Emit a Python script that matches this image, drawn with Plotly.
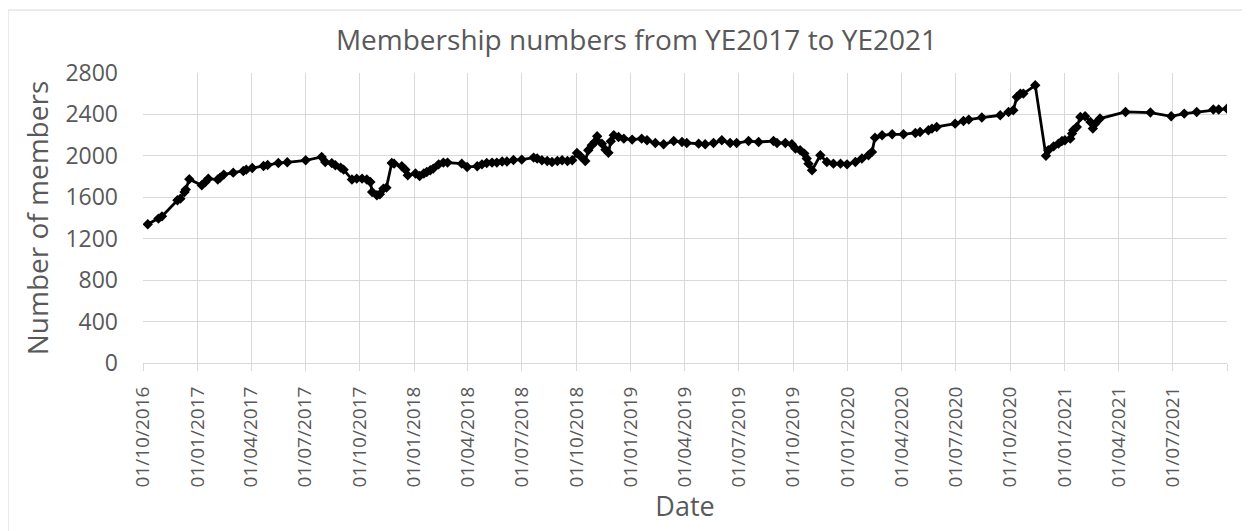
import plotly.graph_objects as go

dates = [
    "2016-10-09", "2016-10-27", "2016-11-02", "2016-11-28", "2016-12-03", "2016-12-10",
    "2016-12-12", "2016-12-18", "2017-01-08", "2017-01-14", "2017-01-19", "2017-02-04",
    "2017-02-08", "2017-02-14", "2017-03-02", "2017-03-19", "2017-03-24", "2017-04-03",
    "2017-04-22", "2017-04-29", "2017-05-17", "2017-06-01", "2017-07-02", "2017-07-29",
    "2017-08-04", "2017-08-15", "2017-08-21", "2017-08-30", "2017-09-04", "2017-09-18",
    "2017-09-26", "2017-10-05", "2017-10-13", "2017-10-19", "2017-10-22", "2017-10-30",
    "2017-11-04", "2017-11-10", "2017-11-15", "2017-11-24", "2017-11-28", "2017-12-11",
    "2017-12-17", "2017-12-21", "2018-01-03", "2018-01-10", "2018-01-17", "2018-01-22",
    "2018-01-28", "2018-02-02", "2018-02-11", "2018-02-19", "2018-02-26", "2018-03-22",
    "2018-03-31", "2018-04-17", "2018-04-25", "2018-05-03", "2018-05-12", "2018-05-20",
    "2018-05-29", "2018-06-06", "2018-06-17", "2018-07-01", "2018-07-21", "2018-07-27",
    "2018-08-04", "2018-08-13", "2018-08-21", "2018-08-30", "2018-09-07", "2018-09-16",
    "2018-09-24", "2018-10-02", "2018-10-08", "2018-10-16", "2018-10-21", "2018-10-27",
    "2018-11-01", "2018-11-05", "2018-11-13", "2018-11-19", "2018-11-24", "2018-11-28",
    "2018-12-03", "2018-12-11", "2018-12-20", "2019-01-03", "2019-01-19", "2019-01-28",
    "2019-02-11", "2019-02-25", "2019-03-14", "2019-03-28", "2019-04-05", "2019-04-25",
    "2019-05-06", "2019-05-20", "2019-06-03", "2019-06-17", "2019-06-28", "2019-07-18",
    "2019-08-04", "2019-08-29", "2019-09-04", "2019-09-18", "2019-09-29", "2019-10-05",
    "2019-10-13", "2019-10-20", "2019-10-24", "2019-10-27", "2019-11-02", "2019-11-16",
    "2019-11-27", "2019-12-08", "2019-12-20", "2019-12-31", "2020-01-14", "2020-01-25",
    "2020-02-05", "2020-02-11", "2020-02-16", "2020-02-28", "2020-03-16", "2020-04-04",
    "2020-04-24", "2020-05-02", "2020-05-16", "2020-05-22", "2020-05-30", "2020-06-30",
    "2020-07-14", "2020-07-23", "2020-08-14", "2020-09-14", "2020-09-28", "2020-10-06",
    "2020-10-12", "2020-10-18", "2020-10-23", "2020-11-12", "2020-11-30", "2020-12-04",
    "2020-12-13", "2020-12-21", "2020-12-27", "2021-01-01", "2021-01-10", "2021-01-13",
    "2021-01-15", "2021-01-21", "2021-01-27", "2021-02-04", "2021-02-13", "2021-02-17",
    "2021-02-21", "2021-03-01", "2021-04-13", "2021-05-25", "2021-06-29", "2021-07-21",
    "2021-08-11", "2021-09-08", "2021-09-17", "2021-10-01",
]

members = [
    1339, 1394, 1416, 1571, 1587, 1651,
    1674, 1775, 1716, 1748, 1780, 1771,
    1790, 1819, 1838, 1854, 1867, 1883,
    1902, 1912, 1931, 1938, 1957, 1989,
    1940, 1930, 1909, 1886, 1867, 1771,
    1780, 1780, 1771, 1748, 1651, 1619,
    1629, 1684, 1693, 1931, 1925, 1899,
    1867, 1812, 1829, 1806, 1829, 1844,
    1861, 1877, 1918, 1935, 1935, 1925,
    1893, 1899, 1918, 1931, 1935, 1935,
    1945, 1945, 1960, 1964, 1983, 1974,
    1957, 1950, 1941, 1950, 1957, 1950,
    1957, 2028, 1996, 1950, 2054, 2102,
    2134, 2189, 2118, 2060, 2030, 2140,
    2200, 2182, 2166, 2157, 2166, 2150,
    2124, 2112, 2143, 2134, 2124, 2118,
    2112, 2124, 2150, 2124, 2124, 2143,
    2134, 2143, 2124, 2124, 2112, 2070,
    2054, 2022, 1974, 1925, 1861, 2006,
    1941, 1925, 1925, 1918, 1941, 1974,
    2006, 2038, 2176, 2199, 2208, 2208,
    2221, 2230, 2247, 2263, 2279, 2311,
    2337, 2350, 2370, 2392, 2424, 2440,
    2568, 2601, 2601, 2681, 2000, 2054,
    2092, 2118, 2143, 2150, 2166, 2215,
    2247, 2279, 2375, 2382, 2327, 2263,
    2311, 2360, 2424, 2418, 2382, 2408,
    2424, 2447, 2447, 2456,
]

tick_dates = [
    "2016-10-01", "2017-01-01", "2017-04-01", "2017-07-01", "2017-10-01",
    "2018-01-01", "2018-04-01", "2018-07-01", "2018-10-01", "2019-01-01",
    "2019-04-01", "2019-07-01", "2019-10-01", "2020-01-01", "2020-04-01",
    "2020-07-01", "2020-10-01", "2021-01-01", "2021-04-01", "2021-07-01",
    "2021-10-01",
]
tick_labels = [
    "01/10/2016", "01/01/2017", "01/04/2017", "01/07/2017", "01/10/2017",
    "01/01/2018", "01/04/2018", "01/07/2018", "01/10/2018", "01/01/2019",
    "01/04/2019", "01/07/2019", "01/10/2019", "01/01/2020", "01/04/2020",
    "01/07/2020", "01/10/2020", "01/01/2021", "01/04/2021", "01/07/2021",
    "",
]
y_ticks = [0, 400, 800, 1200, 1600, 2000, 2400, 2800]

GRAY = "#595959"
GRID = "#d9d9d9"
FONT = "Open Sans"

fig = go.Figure()
fig.add_trace(go.Scatter(
    x=dates, y=members, mode="lines+markers",
    line=dict(color="black", width=2.8),
    marker=dict(symbol="diamond", size=8, color="black"),
    showlegend=False,
))

fig.update_layout(
    width=1242, height=523,
    margin=dict(l=135, r=23, t=65, b=168),
    paper_bgcolor="white", plot_bgcolor="white",
    font=dict(family=FONT, color=GRAY),
    title=dict(text="Membership numbers from YE2017 to YE2021",
               font=dict(family=FONT, size=28, color=GRAY),
               xref="container", x=0.506, xanchor="center",
               yref="container", y=0.939, yanchor="middle"),
    xaxis=dict(
        type="date",
        range=["2016-10-01", "2021-10-01"],
        tickmode="array", tickvals=tick_dates, ticktext=tick_labels,
        tickangle=-90,
        tickfont=dict(family=FONT, size=19, color=GRAY),
        ticks="outside", ticklen=7, tickcolor=GRID, tickwidth=1,
        ticklabelstandoff=8,
        showgrid=True, gridcolor=GRID, gridwidth=1,
        showline=True, linecolor=GRID, linewidth=1,
        zeroline=False,
        title=dict(text="Date", font=dict(family=FONT, size=27, color=GRAY), standoff=8),
    ),
    yaxis=dict(
        range=[0, 2800],
        tickmode="array", tickvals=y_ticks,
        tickfont=dict(family=FONT, size=23, color=GRAY),
        ticklabelstandoff=24,
        showgrid=True, gridcolor=GRID, gridwidth=1,
        showline=False, zeroline=False,
        title=dict(text="Number of members", font=dict(family=FONT, size=28, color=GRAY), standoff=8),
    ),
    shapes=[dict(type="rect", xref="paper", yref="paper",
                 x0=-0.1245, x1=1.03, y0=-0.6, y1=1.217,
                 line=dict(color=GRID, width=1), fillcolor="rgba(0,0,0,0)", layer="below")],
)

fig.write_html("out.html")
